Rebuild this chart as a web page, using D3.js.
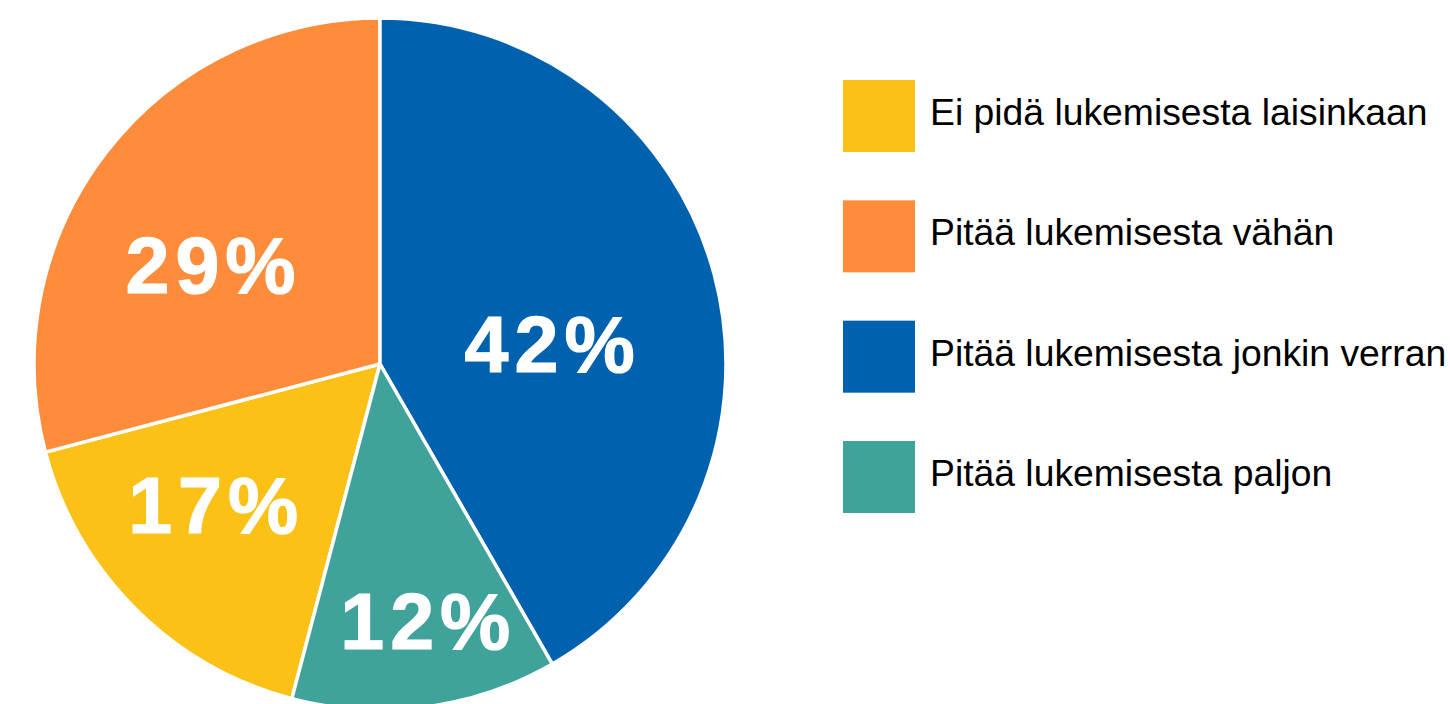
<!doctype html>
<html lang="fi">
<head>
    <meta charset="utf-8">
    <title>Lukemisesta pitäminen</title>
    <script src="https://cdn.jsdelivr.net/npm/d3@7"></script>
    <style>
        body { margin: 0; background: #ffffff; }
        svg { display: block; }
    </style>
</head>
<body>
    <svg></svg>
    <script>
        // data, in legend order (shares; labels are rounded)
        var categories = ['Ei pidä lukemisesta laisinkaan', 'Pitää lukemisesta vähän',
            'Pitää lukemisesta jonkin verran', 'Pitää lukemisesta paljon'];
        var values = [16.8, 29.1, 41.7, 12.4];
        var colors = ['#fbc117', '#fe8c3a', '#0061ae', '#3fa39b'];
        // clockwise order of the slices, starting from 12 o'clock
        var sliceOrder = ['Pitää lukemisesta jonkin verran', 'Pitää lukemisesta paljon',
            'Ei pidä lukemisesta laisinkaan', 'Pitää lukemisesta vähän'];

        var width = 1450;
        var height = 704;
        var cx = 380, cy = 364, radius = 346;

        var svg = d3.select('svg').attr('width', width).attr('height', height);

        var color = d3.scaleOrdinal().domain(categories).range(colors);

        var dataset = categories.map(function (c, i) { return { name: c, value: values[i] }; });

        var pie = d3.pie()
            .value(function (d) { return d.value; })
            .sort(function (a, b) { return sliceOrder.indexOf(a.name) - sliceOrder.indexOf(b.name); });

        var arc = d3.arc().innerRadius(0).outerRadius(radius);
        var labelArc = d3.arc().innerRadius(radius * 0.6).outerRadius(radius * 0.6);

        // hand nudges so labels sit where the original put them
        var labelNudge = {
            'Pitää lukemisesta jonkin verran': [-28, 33],
            'Pitää lukemisesta paljon': [21, 51],
            'Ei pidä lukemisesta laisinkaan': [-17, -6],
            'Pitää lukemisesta vähän': [-2, 27]
        };

        var g = svg.append('g').attr('transform', 'translate(' + cx + ',' + cy + ')');

        var slices = g.selectAll('.slice')
            .data(pie(dataset))
            .enter()
            .append('g')
            .attr('class', 'slice');

        slices.append('path')
            .attr('d', arc)
            .attr('fill', function (d) { return color(d.data.name); })
            .attr('stroke', '#ffffff')
            .attr('stroke-width', 3.5)
            .attr('stroke-linejoin', 'round');

        slices.append('text')
            .attr('transform', function (d) {
                var c = labelArc.centroid(d);
                var n = labelNudge[d.data.name];
                return 'translate(' + (c[0] + n[0]) + ',' + (c[1] + n[1]) + ')';
            })
            .attr('text-anchor', 'middle')
            .attr('dy', '0.36em')
            .attr('fill', '#ffffff')
            .style('font-family', '"Liberation Sans", Arial, sans-serif')
            .style('font-weight', 'bold')
            .style('font-size', '79px')
            .style('letter-spacing', '6px')
            .style('stroke', '#ffffff')
            .style('stroke-width', '1.2px')
            .text(function (d) { return Math.round(d.data.value) + '%'; });

        // legend
        var legendY = d3.scalePoint().domain(categories).range([80, 441]);

        var legend = svg.append('g')
            .selectAll('.legend-item')
            .data(categories)
            .enter()
            .append('g')
            .attr('class', 'legend-item')
            .attr('transform', function (d) { return 'translate(843,' + legendY(d) + ')'; });

        legend.append('rect')
            .attr('width', 72)
            .attr('height', 72)
            .attr('fill', function (d) { return color(d); });

        legend.append('text')
            .attr('x', 87)
            .attr('y', 45)
            .attr('fill', '#000000')
            .style('font-family', '"Liberation Sans", Arial, sans-serif')
            .style('font-size', '37.3px')
            .text(function (d) { return d; });
    </script>
</body>
</html>
